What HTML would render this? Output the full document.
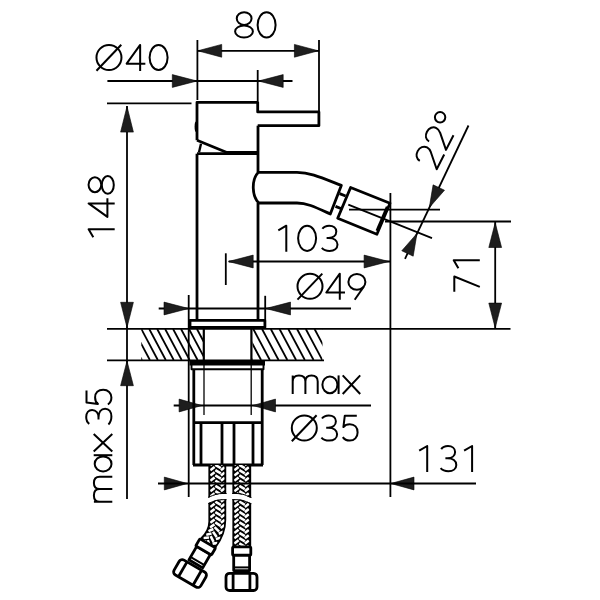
<!DOCTYPE html>
<html><head><meta charset="utf-8"><style>
html,body{margin:0;padding:0;background:#fff;}
svg{display:block;}
</style></head><body>
<svg width="600" height="600" viewBox="0 0 600 600" stroke="#000" stroke-linecap="butt" stroke-linejoin="round">
<line x1="197.4" y1="40" x2="197.4" y2="100" stroke-width="1.8"/>
<line x1="319.0" y1="40" x2="319.0" y2="111" stroke-width="1.8"/>
<line x1="197.4" y1="50.8" x2="319.0" y2="50.8" stroke-width="1.8"/>
<polygon points="197.80,50.80 221.70,44.40 221.70,57.20" fill="#1e1e1e" stroke="#000" stroke-width="0.6"/>
<polygon points="318.30,50.80 294.40,57.20 294.40,44.40" fill="#1e1e1e" stroke="#000" stroke-width="0.6"/>
<g fill="none" stroke-width="2.0">
<g transform="translate(234.2 38.4)"><ellipse cx="9.95" cy="-19.8" rx="7.4" ry="6.35"/><ellipse cx="9.8" cy="-6.9" rx="8.9" ry="6.0"/></g>
<g transform="translate(256.7 38.4)"><ellipse cx="9.9" cy="-13.5" rx="9.0" ry="12.6"/></g>
</g>
<line x1="107.4" y1="81" x2="292.5" y2="81" stroke-width="1.8"/>
<line x1="257.7" y1="70" x2="257.7" y2="101" stroke-width="1.8"/>
<polygon points="197.00,81.00 172.30,87.40 172.30,74.60" fill="#1e1e1e" stroke="#000" stroke-width="0.6"/>
<polygon points="258.50,81.00 283.20,74.60 283.20,87.40" fill="#1e1e1e" stroke="#000" stroke-width="0.6"/>
<g fill="none" stroke-width="2.0">
<g transform="translate(95.67 71)"><circle cx="13.3" cy="-13.5" r="12.5"/><path d="M0.8,-0.2 L25.6,-26.2"/></g>
<g transform="translate(125.75 71)"><path d="M14.4,0 L14.4,-26.1 L0.9,-7.3 L19.6,-7.3"/></g>
<g transform="translate(148.7 71)"><ellipse cx="9.9" cy="-13.5" rx="9.0" ry="12.6"/></g>
</g>
<line x1="107" y1="103.4" x2="191.5" y2="103.4" stroke-width="1.8"/>
<line x1="127" y1="106" x2="127" y2="327.5" stroke-width="1.8"/>
<polygon points="127.00,106.40 133.40,132.10 120.60,132.10" fill="#1e1e1e" stroke="#000" stroke-width="0.6"/>
<polygon points="127.00,327.50 120.60,302.30 133.40,302.30" fill="#1e1e1e" stroke="#000" stroke-width="0.6"/>
<g fill="none" stroke-width="2.0">
<g transform="translate(114.7 238.2) rotate(-90)"><path d="M8.9,0 L8.9,-26.1 L0.9,-21.4"/></g>
<g transform="translate(114.7 217.8) rotate(-90)"><path d="M14.4,0 L14.4,-26.1 L0.9,-7.3 L19.6,-7.3"/></g>
<g transform="translate(114.7 194.7) rotate(-90)"><ellipse cx="9.95" cy="-19.8" rx="7.4" ry="6.35"/><ellipse cx="9.8" cy="-6.9" rx="8.9" ry="6.0"/></g>
</g>
<line x1="127" y1="361" x2="127" y2="499" stroke-width="1.8"/>
<polygon points="127.00,361.00 133.40,385.70 120.60,385.70" fill="#1e1e1e" stroke="#000" stroke-width="0.6"/>
<g fill="none" stroke-width="2.0">
<g transform="translate(112.3 502.7) rotate(-90)"><path d="M0.9,0 L0.9,-18.4 M0.9,-12.6 C0.9,-16.4 3.5,-18.4 7.2,-18.4 C11.0,-18.4 13.6,-16.4 13.6,-12.6 L13.6,0 M13.6,-12.6 C13.6,-16.4 16.2,-18.4 19.7,-18.4 C23.5,-18.4 25.9,-16.4 25.9,-12.6 L25.9,0"/></g>
<g transform="translate(112.3 472.3) rotate(-90)"><ellipse cx="8.4" cy="-9.2" rx="7.5" ry="8.4"/><path d="M17.1,-18.6 L17.1,0"/></g>
<g transform="translate(112.3 452.5) rotate(-90)"><path d="M0.9,-18.6 L18.4,0 M18.4,-18.6 L0.9,0"/></g>
<g transform="translate(112.3 425) rotate(-90)"><path d="M1.2,-23.0 C2.6,-25.1 5.0,-26.1 8.0,-26.1 C12.2,-26.1 15.1,-23.6 15.1,-20.2 C15.1,-16.3 11.8,-13.8 7.4,-13.8 L5.4,-13.8 M7.4,-13.8 C12.8,-13.8 16.3,-11.2 16.3,-7.2 C16.3,-3.2 13.0,-0.9 8.4,-0.9 C4.9,-0.9 2.1,-2.2 0.6,-3.9"/></g>
<g transform="translate(112.3 405.3) rotate(-90)"><path d="M14.8,-25.8 L2.8,-25.8 L1.4,-14.4 C2.9,-16.3 5.0,-17.2 7.8,-17.2 C12.6,-17.2 15.6,-14.0 15.6,-9.1 C15.6,-4.2 12.3,-0.9 7.8,-0.9 C4.6,-0.9 2.2,-2.3 0.8,-4.4"/></g>
</g>
<line x1="385" y1="221.5" x2="511" y2="221.5" stroke-width="1.8"/>
<line x1="495.2" y1="222" x2="495.2" y2="328" stroke-width="1.8"/>
<polygon points="495.20,222.80 501.60,247.50 488.80,247.50" fill="#1e1e1e" stroke="#000" stroke-width="0.6"/>
<polygon points="495.20,327.80 488.80,303.10 501.60,303.10" fill="#1e1e1e" stroke="#000" stroke-width="0.6"/>
<g fill="none" stroke-width="2.0">
<g transform="translate(479.8 291.8) rotate(-90)"><path d="M0,-25.5 L15.3,-25.5 L4.9,0"/></g>
<g transform="translate(479.8 269.2) rotate(-90)"><path d="M8.9,0 L8.9,-26.1 L0.9,-21.4"/></g>
</g>
<line x1="107" y1="328.8" x2="510.5" y2="328.8" stroke-width="1.8"/>
<line x1="107" y1="360.4" x2="324" y2="360.4" stroke-width="1.8"/>
<line x1="127" y1="327" x2="127" y2="362" stroke-width="1.8"/>
<defs><clipPath id="hl"><rect x="141.3" y="329" width="62.2" height="31"/></clipPath><clipPath id="hr"><rect x="252.5" y="329" width="70" height="31"/></clipPath></defs>
<g clip-path="url(#hl)">
<line x1="101.55" y1="329" x2="118.05" y2="360" stroke-width="1.8"/>
<line x1="109.5" y1="329" x2="126.0" y2="360" stroke-width="1.8"/>
<line x1="117.45" y1="329" x2="133.95" y2="360" stroke-width="1.8"/>
<line x1="125.4" y1="329" x2="141.9" y2="360" stroke-width="1.8"/>
<line x1="133.35" y1="329" x2="149.85" y2="360" stroke-width="1.8"/>
<line x1="141.3" y1="329" x2="157.8" y2="360" stroke-width="1.8"/>
<line x1="149.25" y1="329" x2="165.75" y2="360" stroke-width="1.8"/>
<line x1="157.2" y1="329" x2="173.7" y2="360" stroke-width="1.8"/>
<line x1="165.15" y1="329" x2="181.65" y2="360" stroke-width="1.8"/>
<line x1="173.1" y1="329" x2="189.6" y2="360" stroke-width="1.8"/>
<line x1="181.05" y1="329" x2="197.55" y2="360" stroke-width="1.8"/>
<line x1="189.0" y1="329" x2="205.5" y2="360" stroke-width="1.8"/>
<line x1="196.95" y1="329" x2="213.45" y2="360" stroke-width="1.8"/>
<line x1="204.9" y1="329" x2="221.4" y2="360" stroke-width="1.8"/>
</g>
<g clip-path="url(#hr)">
<line x1="209.55" y1="329" x2="226.05" y2="360" stroke-width="1.8"/>
<line x1="218.3" y1="329" x2="234.8" y2="360" stroke-width="1.8"/>
<line x1="227.05" y1="329" x2="243.55" y2="360" stroke-width="1.8"/>
<line x1="235.8" y1="329" x2="252.3" y2="360" stroke-width="1.8"/>
<line x1="244.55" y1="329" x2="261.05" y2="360" stroke-width="1.8"/>
<line x1="253.3" y1="329" x2="269.8" y2="360" stroke-width="1.8"/>
<line x1="262.05" y1="329" x2="278.55" y2="360" stroke-width="1.8"/>
<line x1="270.8" y1="329" x2="287.3" y2="360" stroke-width="1.8"/>
<line x1="279.55" y1="329" x2="296.05" y2="360" stroke-width="1.8"/>
<line x1="288.3" y1="329" x2="304.8" y2="360" stroke-width="1.8"/>
<line x1="297.05" y1="329" x2="313.55" y2="360" stroke-width="1.8"/>
<line x1="305.8" y1="329" x2="322.3" y2="360" stroke-width="1.8"/>
<line x1="314.55" y1="329" x2="331.05" y2="360" stroke-width="1.8"/>
<line x1="323.3" y1="329" x2="339.8" y2="360" stroke-width="1.8"/>
</g>
<line x1="203.8" y1="329" x2="203.8" y2="360.3" stroke-width="2.2"/>
<line x1="251.4" y1="329" x2="251.4" y2="360.3" stroke-width="2.2"/>
<line x1="204" y1="360" x2="204" y2="415" stroke-width="1.3"/>
<line x1="251.2" y1="360" x2="251.2" y2="415" stroke-width="1.3"/>
<line x1="225.8" y1="253.3" x2="225.8" y2="285" stroke-width="1.8"/>
<line x1="228.7" y1="261.5" x2="390.5" y2="261.5" stroke-width="1.8"/>
<polygon points="228.50,261.50 253.20,255.10 253.20,267.90" fill="#1e1e1e" stroke="#000" stroke-width="0.6"/>
<polygon points="388.80,261.50 364.10,267.90 364.10,255.10" fill="#1e1e1e" stroke="#000" stroke-width="0.6"/>
<g fill="none" stroke-width="2.0">
<g transform="translate(277.4 251.8)"><path d="M8.9,0 L8.9,-26.1 L0.9,-21.4"/></g>
<g transform="translate(297.2 251.8)"><ellipse cx="9.9" cy="-13.5" rx="9.0" ry="12.6"/></g>
<g transform="translate(321.2 251.8)"><path d="M1.2,-23.0 C2.6,-25.1 5.0,-26.1 8.0,-26.1 C12.2,-26.1 15.1,-23.6 15.1,-20.2 C15.1,-16.3 11.8,-13.8 7.4,-13.8 L5.4,-13.8 M7.4,-13.8 C12.8,-13.8 16.3,-11.2 16.3,-7.2 C16.3,-3.2 13.0,-0.9 8.4,-0.9 C4.9,-0.9 2.1,-2.2 0.6,-3.9"/></g>
</g>
<line x1="188.7" y1="295" x2="188.7" y2="497" stroke-width="1.8"/>
<line x1="265.2" y1="295.8" x2="265.2" y2="320" stroke-width="1.8"/>
<line x1="158.7" y1="308.5" x2="351" y2="308.5" stroke-width="1.8"/>
<polygon points="188.70,308.50 164.00,314.90 164.00,302.10" fill="#1e1e1e" stroke="#000" stroke-width="0.6"/>
<polygon points="265.80,308.50 290.50,302.10 290.50,314.90" fill="#1e1e1e" stroke="#000" stroke-width="0.6"/>
<g fill="none" stroke-width="2.0">
<g transform="translate(296.7 299.8)"><circle cx="13.3" cy="-13.5" r="12.5"/><path d="M0.8,-0.2 L25.6,-26.2"/></g>
<g transform="translate(325.4 299.8)"><path d="M14.4,0 L14.4,-26.1 L0.9,-7.3 L19.6,-7.3"/></g>
<g transform="translate(347.5 299.8)"><ellipse cx="9.4" cy="-17.9" rx="8.5" ry="7.9"/><path d="M16.6,-13.6 L7.2,0"/></g>
</g>
<line x1="173.7" y1="405.5" x2="371" y2="405.5" stroke-width="1.8"/>
<polygon points="201.80,405.50 179.10,411.90 179.10,399.10" fill="#1e1e1e" stroke="#000" stroke-width="0.6"/>
<polygon points="252.80,405.50 275.50,399.10 275.50,411.90" fill="#1e1e1e" stroke="#000" stroke-width="0.6"/>
<g fill="none" stroke-width="2.0">
<g transform="translate(291.8 394)"><path d="M0.9,0 L0.9,-18.4 M0.9,-12.6 C0.9,-16.4 3.5,-18.4 7.2,-18.4 C11.0,-18.4 13.6,-16.4 13.6,-12.6 L13.6,0 M13.6,-12.6 C13.6,-16.4 16.2,-18.4 19.7,-18.4 C23.5,-18.4 25.9,-16.4 25.9,-12.6 L25.9,0"/></g>
<g transform="translate(321.5 394)"><ellipse cx="8.4" cy="-9.2" rx="7.5" ry="8.4"/><path d="M17.1,-18.6 L17.1,0"/></g>
<g transform="translate(341.8 394)"><path d="M0.9,-18.6 L18.4,0 M18.4,-18.6 L0.9,0"/></g>
</g>
<g fill="none" stroke-width="2.0">
<g transform="translate(291 441.5)"><circle cx="13.3" cy="-13.5" r="12.5"/><path d="M0.8,-0.2 L25.6,-26.2"/></g>
<g transform="translate(320.8 441.5)"><path d="M1.2,-23.0 C2.6,-25.1 5.0,-26.1 8.0,-26.1 C12.2,-26.1 15.1,-23.6 15.1,-20.2 C15.1,-16.3 11.8,-13.8 7.4,-13.8 L5.4,-13.8 M7.4,-13.8 C12.8,-13.8 16.3,-11.2 16.3,-7.2 C16.3,-3.2 13.0,-0.9 8.4,-0.9 C4.9,-0.9 2.1,-2.2 0.6,-3.9"/></g>
<g transform="translate(342 441.5)"><path d="M14.8,-25.8 L2.8,-25.8 L1.4,-14.4 C2.9,-16.3 5.0,-17.2 7.8,-17.2 C12.6,-17.2 15.6,-14.0 15.6,-9.1 C15.6,-4.2 12.3,-0.9 7.8,-0.9 C4.6,-0.9 2.2,-2.3 0.8,-4.4"/></g>
</g>
<line x1="390.4" y1="193" x2="390.4" y2="497" stroke-width="1.8"/>
<polygon points="187.30,483.50 164.30,489.90 164.30,477.10" fill="#1e1e1e" stroke="#000" stroke-width="0.6"/>
<polygon points="390.80,483.50 414.00,477.10 414.00,489.90" fill="#1e1e1e" stroke="#000" stroke-width="0.6"/>
<g fill="none" stroke-width="2.0">
<g transform="translate(418.3 472.1)"><path d="M8.9,0 L8.9,-26.1 L0.9,-21.4"/></g>
<g transform="translate(440 472.1)"><path d="M1.2,-23.0 C2.6,-25.1 5.0,-26.1 8.0,-26.1 C12.2,-26.1 15.1,-23.6 15.1,-20.2 C15.1,-16.3 11.8,-13.8 7.4,-13.8 L5.4,-13.8 M7.4,-13.8 C12.8,-13.8 16.3,-11.2 16.3,-7.2 C16.3,-3.2 13.0,-0.9 8.4,-0.9 C4.9,-0.9 2.1,-2.2 0.6,-3.9"/></g>
<g transform="translate(463.2 472.1)"><path d="M8.9,0 L8.9,-26.1 L0.9,-21.4"/></g>
</g>
<line x1="468.5" y1="125.5" x2="405" y2="258.8" stroke-width="1.8"/>
<polygon points="429.30,207.60 433.10,184.84 444.49,190.23" fill="#1e1e1e" stroke="#000" stroke-width="0.6"/>
<polygon points="417.00,233.40 413.20,256.16 401.81,250.77" fill="#1e1e1e" stroke="#000" stroke-width="0.6"/>
<line x1="349" y1="209.7" x2="440" y2="209.7" stroke-width="1.8"/>
<line x1="348.3" y1="204.7" x2="432" y2="238.2" stroke-width="1.8"/>
<g fill="none" stroke-width="2.0">
<g transform="translate(437.0 170.6) rotate(-63)"><path d="M0.9,-19.8 C1.2,-23.8 4.5,-26.1 8.6,-26.1 C13,-26.1 16.2,-23.2 16.2,-19.4 C16.2,-17.2 15.2,-15.6 13.6,-13.8 L1.1,-0.9 L17.6,-0.9"/></g>
<g transform="translate(446.3 151.3) rotate(-63)"><path d="M0.9,-19.8 C1.2,-23.8 4.5,-26.1 8.6,-26.1 C13,-26.1 16.2,-23.2 16.2,-19.4 C16.2,-17.2 15.2,-15.6 13.6,-13.8 L1.1,-0.9 L17.6,-0.9"/></g>
<circle cx="440.1" cy="117.3" r="5.2"/></g>
<polyline points="197,140.3 197,102.3 257.7,102.3 257.7,111.9 318.9,111.9 318.9,125.7 257.7,125.7" fill="none" stroke-width="2.8"/>
<ellipse cx="196.2" cy="126.8" rx="1.6" ry="5.2" fill="#000" stroke="none"/>
<polyline points="197,140.3 226.3,152.3 257.7,152.3" fill="none" stroke-width="2.8"/>
<line x1="201" y1="143.7" x2="199" y2="152.3" stroke-width="2.4"/>
<line x1="197" y1="153.7" x2="257.7" y2="153.7" stroke-width="2.8"/>
<line x1="197" y1="153.7" x2="197" y2="320.4" stroke-width="2.8"/>
<line x1="258" y1="125.7" x2="258" y2="172.4" stroke-width="2.8"/>
<line x1="258" y1="203" x2="258" y2="320.4" stroke-width="2.8"/>
<path d="M258.3,172.4 L297,172.4 C310,172.4 320,177 341.3,185.4 L330.3,214 C315,207 307,203 297,203 L259,203 C252,197 251,180 258.3,172.4 Z" fill="none" stroke-width="2.8"/>
<line x1="339.6" y1="193.6" x2="345.6" y2="196.0" stroke-width="2.8"/>
<line x1="335.5" y1="206.4" x2="341.5" y2="208.8" stroke-width="2.8"/>
<polygon points="350.6,187.5 390,203.3 376.9,234.2 337.7,218.3" fill="none" stroke-width="2.8"/>
<line x1="387.0" y1="206.6" x2="376.7" y2="230.8" stroke-width="2.3"/>
<polygon points="190,320.4 264.9,320.4 264.9,327.5 190,327.5" fill="none" stroke-width="2.8"/>
<line x1="189.5" y1="363.2" x2="265" y2="363.2" stroke-width="4.4"/>
<polyline points="191.5,365 191.5,369.2 263.5,369.2 263.5,365" fill="none" stroke-width="1.9"/>
<line x1="193.8" y1="369.2" x2="193.8" y2="465" stroke-width="2.8"/>
<line x1="262.2" y1="369.2" x2="262.2" y2="465" stroke-width="2.8"/>
<line x1="193.8" y1="422.6" x2="262.2" y2="422.6" stroke-width="2.8"/>
<line x1="201" y1="422.6" x2="201" y2="465" stroke-width="2.8"/>
<line x1="222" y1="422.6" x2="222" y2="465" stroke-width="2.8"/>
<line x1="234" y1="422.6" x2="234" y2="465" stroke-width="2.8"/>
<line x1="253" y1="422.6" x2="253" y2="465" stroke-width="2.8"/>
<line x1="193" y1="465" x2="263" y2="465" stroke-width="2.8"/>
<defs><clipPath id="cR"><path d="M233.25,465 L233.25,546.5 L250.3,546.5 L250.3,465 Z"/></clipPath><clipPath id="cL"><path d="M209.25,465 L209.25,521.5 C209.25,529 205.5,534.5 200.4,539.1 L215.2,547.6 C221.5,539.5 225.35,531 225.35,520 L225.35,465 Z"/></clipPath></defs>
<path d="M233.25,465 L233.25,546.5 L250.3,546.5 L250.3,465 Z" fill="#000" stroke="none"/>
<path d="M209.25,465 L209.25,521.5 C209.25,529 205.5,534.5 200.4,539.1 L215.2,547.6 C221.5,539.5 225.35,531 225.35,520 L225.35,465 Z" fill="#000" stroke="none"/>
<g clip-path="url(#cR)" stroke="#fff" stroke-width="2.6"><line x1="234.30" y1="465.07" x2="238.60" y2="461.77"/><line x1="239.30" y1="459.67" x2="244.80" y2="462.97"/><line x1="244.90" y1="465.07" x2="248.80" y2="461.97"/><line x1="234.30" y1="470.30" x2="238.60" y2="467.00"/><line x1="239.30" y1="464.90" x2="244.80" y2="468.20"/><line x1="244.90" y1="470.30" x2="248.80" y2="467.20"/><line x1="234.30" y1="475.53" x2="238.60" y2="472.23"/><line x1="239.30" y1="470.13" x2="244.80" y2="473.43"/><line x1="244.90" y1="475.53" x2="248.80" y2="472.43"/><line x1="234.30" y1="480.76" x2="238.60" y2="477.46"/><line x1="239.30" y1="475.36" x2="244.80" y2="478.66"/><line x1="244.90" y1="480.76" x2="248.80" y2="477.66"/><line x1="234.30" y1="485.99" x2="238.60" y2="482.69"/><line x1="239.30" y1="480.59" x2="244.80" y2="483.89"/><line x1="244.90" y1="485.99" x2="248.80" y2="482.89"/><line x1="234.30" y1="491.22" x2="238.60" y2="487.92"/><line x1="239.30" y1="485.82" x2="244.80" y2="489.12"/><line x1="244.90" y1="491.22" x2="248.80" y2="488.12"/><line x1="234.30" y1="496.45" x2="238.60" y2="493.15"/><line x1="239.30" y1="491.05" x2="244.80" y2="494.35"/><line x1="244.90" y1="496.45" x2="248.80" y2="493.35"/><line x1="234.30" y1="501.68" x2="238.60" y2="498.38"/><line x1="239.30" y1="496.28" x2="244.80" y2="499.58"/><line x1="244.90" y1="501.68" x2="248.80" y2="498.58"/><line x1="234.30" y1="506.91" x2="238.60" y2="503.61"/><line x1="239.30" y1="501.51" x2="244.80" y2="504.81"/><line x1="244.90" y1="506.91" x2="248.80" y2="503.81"/><line x1="234.30" y1="512.14" x2="238.60" y2="508.84"/><line x1="239.30" y1="506.74" x2="244.80" y2="510.04"/><line x1="244.90" y1="512.14" x2="248.80" y2="509.04"/><line x1="234.30" y1="517.37" x2="238.60" y2="514.07"/><line x1="239.30" y1="511.97" x2="244.80" y2="515.27"/><line x1="244.90" y1="517.37" x2="248.80" y2="514.27"/><line x1="234.30" y1="522.60" x2="238.60" y2="519.30"/><line x1="239.30" y1="517.20" x2="244.80" y2="520.50"/><line x1="244.90" y1="522.60" x2="248.80" y2="519.50"/><line x1="234.30" y1="527.83" x2="238.60" y2="524.53"/><line x1="239.30" y1="522.43" x2="244.80" y2="525.73"/><line x1="244.90" y1="527.83" x2="248.80" y2="524.73"/><line x1="234.30" y1="533.06" x2="238.60" y2="529.76"/><line x1="239.30" y1="527.66" x2="244.80" y2="530.96"/><line x1="244.90" y1="533.06" x2="248.80" y2="529.96"/><line x1="234.30" y1="538.29" x2="238.60" y2="534.99"/><line x1="239.30" y1="532.89" x2="244.80" y2="536.19"/><line x1="244.90" y1="538.29" x2="248.80" y2="535.19"/><line x1="234.30" y1="543.52" x2="238.60" y2="540.22"/><line x1="239.30" y1="538.12" x2="244.80" y2="541.42"/><line x1="244.90" y1="543.52" x2="248.80" y2="540.42"/><line x1="234.30" y1="548.75" x2="238.60" y2="545.45"/><line x1="239.30" y1="543.35" x2="244.80" y2="546.65"/><line x1="244.90" y1="548.75" x2="248.80" y2="545.65"/><line x1="234.30" y1="553.98" x2="238.60" y2="550.68"/><line x1="239.30" y1="548.58" x2="244.80" y2="551.88"/><line x1="244.90" y1="553.98" x2="248.80" y2="550.88"/></g>
<g clip-path="url(#cL)" stroke="#fff" stroke-width="2.6"><line x1="210.30" y1="465.07" x2="214.60" y2="461.77"/><line x1="215.30" y1="459.67" x2="220.80" y2="462.97"/><line x1="220.90" y1="465.07" x2="224.80" y2="461.97"/><line x1="210.30" y1="470.30" x2="214.60" y2="467.00"/><line x1="215.30" y1="464.90" x2="220.80" y2="468.20"/><line x1="220.90" y1="470.30" x2="224.80" y2="467.20"/><line x1="210.30" y1="475.55" x2="214.60" y2="472.25"/><line x1="215.30" y1="470.15" x2="220.80" y2="473.45"/><line x1="220.90" y1="475.55" x2="224.80" y2="472.45"/><line x1="210.30" y1="480.80" x2="214.60" y2="477.50"/><line x1="215.30" y1="475.40" x2="220.80" y2="478.70"/><line x1="220.90" y1="480.80" x2="224.80" y2="477.70"/><line x1="210.30" y1="486.05" x2="214.60" y2="482.75"/><line x1="215.30" y1="480.65" x2="220.80" y2="483.95"/><line x1="220.90" y1="486.05" x2="224.80" y2="482.95"/><line x1="210.30" y1="491.30" x2="214.60" y2="488.00"/><line x1="215.30" y1="485.90" x2="220.80" y2="489.20"/><line x1="220.90" y1="491.30" x2="224.80" y2="488.20"/><line x1="210.30" y1="496.55" x2="214.60" y2="493.25"/><line x1="215.30" y1="491.15" x2="220.80" y2="494.45"/><line x1="220.90" y1="496.55" x2="224.80" y2="493.45"/><line x1="210.30" y1="501.80" x2="214.60" y2="498.50"/><line x1="215.30" y1="496.40" x2="220.80" y2="499.70"/><line x1="220.90" y1="501.80" x2="224.80" y2="498.70"/><line x1="210.30" y1="507.05" x2="214.60" y2="503.75"/><line x1="215.30" y1="501.65" x2="220.80" y2="504.95"/><line x1="220.90" y1="507.05" x2="224.80" y2="503.95"/><line x1="210.30" y1="512.30" x2="214.60" y2="509.00"/><line x1="215.30" y1="506.90" x2="220.80" y2="510.20"/><line x1="220.90" y1="512.30" x2="224.80" y2="509.20"/><line x1="210.30" y1="517.55" x2="214.60" y2="514.25"/><line x1="215.30" y1="512.15" x2="220.80" y2="515.45"/><line x1="220.90" y1="517.55" x2="224.80" y2="514.45"/><line x1="210.30" y1="522.80" x2="214.60" y2="519.50"/><line x1="215.30" y1="517.40" x2="220.80" y2="520.70"/><line x1="220.90" y1="522.80" x2="224.80" y2="519.70"/><line x1="209.99" y1="527.46" x2="214.46" y2="524.39"/><line x1="215.27" y1="522.33" x2="220.59" y2="525.91"/><line x1="220.58" y1="528.02" x2="224.63" y2="525.12"/><line x1="208.44" y1="531.18" x2="213.40" y2="529.00"/><line x1="214.58" y1="527.13" x2="219.14" y2="531.64"/><line x1="218.74" y1="533.70" x2="223.26" y2="531.62"/><line x1="206.24" y1="534.65" x2="211.51" y2="533.39"/><line x1="213.00" y1="531.76" x2="216.68" y2="537.02"/><line x1="215.91" y1="538.97" x2="220.74" y2="537.73"/><line x1="203.55" y1="537.94" x2="208.95" y2="537.48"/><line x1="210.67" y1="536.09" x2="213.52" y2="541.83"/><line x1="212.47" y1="543.66" x2="217.43" y2="543.15"/><line x1="200.45" y1="541.21" x2="205.87" y2="541.34"/><line x1="207.73" y1="540.15" x2="209.94" y2="546.17"/><line x1="208.70" y1="547.87" x2="213.68" y2="547.91"/><line x1="196.97" y1="544.95" x2="202.38" y2="545.29"/><line x1="204.29" y1="544.17" x2="206.26" y2="550.27"/><line x1="204.95" y1="551.92" x2="209.93" y2="552.15"/><line x1="193.52" y1="548.90" x2="198.93" y2="549.25"/><line x1="200.83" y1="548.12" x2="202.81" y2="554.23"/><line x1="201.50" y1="555.88" x2="206.48" y2="556.10"/></g>
<path d="M233.25,465 L233.25,546.5 M250.3,546.5 L250.3,465" fill="none" stroke-width="1.75"/>
<path d="M209.25,465 L209.25,521.5 C209.25,529 205.5,534.5 200.4,539.1 M215.2,547.6 C221.5,539.5 225.35,531 225.35,520 L225.35,465" fill="none" stroke-width="1.75"/>
<path d="M205,498.40 C210,498.20 214,494.00 222,494.00 L237,494.00 C245,494.00 249,498.20 254,498.40 L254,503.60 C249,503.40 245,499.20 237,499.20 L222,499.20 C214,499.20 210,503.40 205,503.60 Z" fill="#fff" stroke="none"/>
<defs><clipPath id="hosex"><rect x="208" y="480" width="18.6" height="30"/><rect x="232.2" y="480" width="19.2" height="30"/></clipPath></defs>
<g clip-path="url(#hosex)" fill="none" stroke-width="1.0"><path d="M205,497.90 C210,497.70 214,493.50 222,493.50 L237,493.50 C245,493.50 249,497.70 254,497.90"/><path d="M205,504.10 C210,503.90 214,499.70 222,499.70 L237,499.70 C245,499.70 249,503.90 254,504.10"/></g>
<g><rect x="233.7" y="555" width="15.9" height="15.6" fill="#fff" stroke-width="2.8"/><line x1="233.0" y1="567.4" x2="250.3" y2="567.4" stroke-width="2.0"/><rect x="232.6" y="546.9" width="18.2" height="8.3" rx="1.2" fill="#fff" stroke-width="2.8"/><rect x="226.0" y="573.3" width="31.0" height="17.2" rx="3.6" fill="#fff" stroke-width="2.8"/><line x1="233.1" y1="573.3" x2="233.1" y2="590.5" stroke-width="2.8"/><line x1="249.9" y1="573.3" x2="249.9" y2="590.5" stroke-width="2.8"/></g>
<g transform="translate(205.7 546.8) rotate(30) translate(-241.7 -550.9)"><rect x="233.7" y="555" width="15.9" height="15.6" fill="#fff" stroke-width="2.8"/><line x1="233.0" y1="567.4" x2="250.3" y2="567.4" stroke-width="2.0"/><rect x="232.6" y="546.9" width="18.2" height="8.3" rx="1.2" fill="#fff" stroke-width="2.8"/><rect x="226.0" y="573.3" width="31.0" height="17.2" rx="3.6" fill="#fff" stroke-width="2.8"/><line x1="233.1" y1="573.3" x2="233.1" y2="590.5" stroke-width="2.8"/><line x1="249.9" y1="573.3" x2="249.9" y2="590.5" stroke-width="2.8"/></g>
<line x1="158" y1="483.5" x2="476" y2="483.5" stroke-width="1.8"/>
</svg></body></html>
